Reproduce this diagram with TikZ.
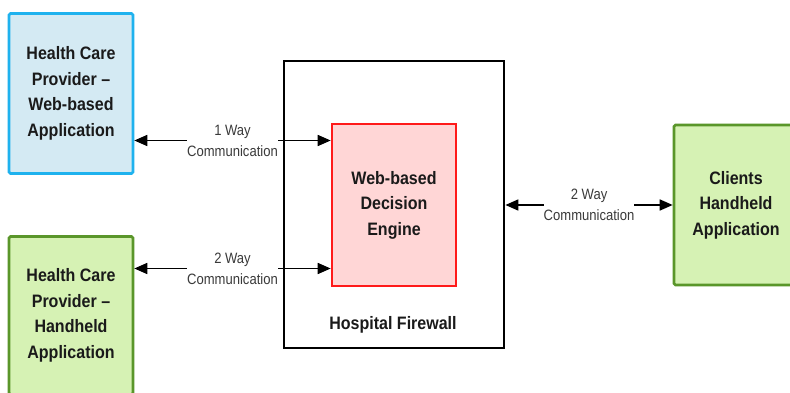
\documentclass[tikz,border=0pt]{standalone}
\usepackage{fontspec}
\setmainfont{Liberation Sans}
\newfontfamily\boxfont[FakeStretch=0.89,Ligatures=TeX]{Liberation Sans Bold}
\newfontfamily\lblfont[FakeStretch=0.87,Ligatures=TeX]{Liberation Sans}
\usetikzlibrary{arrows.meta}
\definecolor{bluefill}{HTML}{D4EAF3}
\definecolor{blueline}{HTML}{1FB2EE}
\definecolor{greenfill}{HTML}{D6F2B4}
\definecolor{greenline}{HTML}{5A962A}
\definecolor{redfill}{HTML}{FFD6D6}
\definecolor{redline}{HTML}{FF1A1A}
\definecolor{lblgray}{HTML}{3A3A3A}
\definecolor{txt}{HTML}{1A1A1A}
\tikzset{
  box/.style={draw, line width=2.6pt, rounded corners=1.5pt, inner sep=0pt, align=center,
    text=txt, font=\boxfont\fontsize{18}{25.5}\selectfont},
  bluebox/.style={box, draw=blueline, fill=bluefill},
  greenbox/.style={box, draw=greenline, fill=greenfill},
  redbox/.style={box, draw=redline, fill=redfill, rounded corners=0pt},
  fwbox/.style={draw=black, line width=2.8pt, inner sep=0pt},
  arr/.style={line width=1.7pt, {Triangle[length=13pt,width=11pt]}-{Triangle[length=13pt,width=11pt]}},
  lbl/.style={fill=white, inner sep=0pt, align=center, text=lblgray, font=\lblfont\fontsize{15}{21}\selectfont},
  title/.style={text=txt, font=\boxfont\fontsize{18}{20}\selectfont}
}
\begin{document}
\begin{tikzpicture}[x=1pt, y=-1pt]
\useasboundingbox (0,0) rectangle (790,393);
\fill[white] (0,0) rectangle (790,393);
\clip (0,0) rectangle (790,393);
% boxes
\node[bluebox, minimum width=124pt, minimum height=160pt] (A) at (71,93.5) {Health Care\\Provider –\\Web-based\\Application};
\node[greenbox, minimum width=124pt, minimum height=158pt] (B) at (71,315.5) {Health Care\\Provider –\\Handheld\\Application};
\node[fwbox, minimum width=220pt, minimum height=287pt] (F) at (394,204.5) {};
\node[redbox, minimum width=124pt, minimum height=162pt] (R) at (394,205) {Web-based\\Decision\\Engine};
\node[title] (T) at (393,325) {Hospital Firewall};
\node[greenbox, minimum width=124pt, minimum height=160pt] (C) at (736,205) {Clients\\Handheld\\Application};
% connector heights
\coordinate (y1) at (0,140.5);
\coordinate (y2) at (0,268.5);
\coordinate (y3) at (0,205);
\draw[arr] (A.east |- y1) -- node[lbl] (L1) {1 Way\\Communication} (R.west |- y1);
\draw[arr] (B.east |- y2) -- node[lbl] (L2) {2 Way\\Communication} (R.west |- y2);
\draw[arr] (F.east |- y3) -- node[lbl] (L3) {2 Way\\Communication} (C.west |- y3);
\end{tikzpicture}
\end{document}
